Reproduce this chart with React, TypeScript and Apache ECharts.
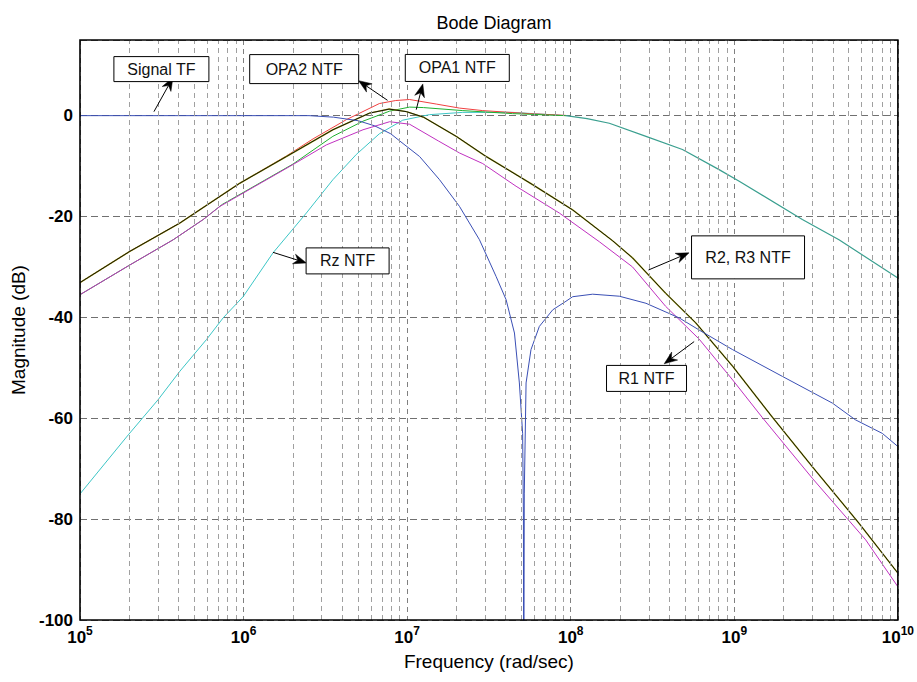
import React, { useEffect, useRef } from "react";
import * as echarts from "echarts";

// Each curve: [log10(frequency in rad/sec), magnitude in dB]
const signalTF: [number, number][] = [
  [5, 0], [6.4, 0], [6.55, -0.3], [6.7, -1.0], [6.8, -2.0], [6.9, -3.6], [6.954, -5.0],
  [7.076, -8.1], [7.198, -12.7], [7.32, -18.0], [7.442, -24.6], [7.544, -31.9], [7.605, -36.5],
  [7.656, -43.1], [7.686, -53], [7.706, -63], [7.711, -80], [7.7125, -130], [7.716, -75],
  [7.727, -53], [7.757, -46.4], [7.808, -41.8], [7.89, -38.5], [7.971, -36.8], [8.012, -35.9],
  [8.134, -35.4], [8.297, -35.8], [8.46, -37.2], [8.663, -40.1], [8.785, -42.5], [8.99, -46.4],
  [9.294, -51.7], [9.6, -57], [9.74, -60.3], [9.905, -63], [10, -65.6],
];

const r23NTF: [number, number][] = [
  [5, -33.1], [5.305, -26.9], [5.61, -21.3], [5.977, -13.4], [6.262, -8.1], [6.546, -2.8],
  [6.77, 0.5], [6.89, 1.3], [6.995, 0.8], [7.1, -0.3], [7.3, -4.1], [7.483, -8.1], [7.768, -13.7],
  [8.012, -18.7], [8.256, -24.8], [8.378, -28.2], [8.58, -35.2], [8.765, -41.1], [8.99, -49.7],
  [9.233, -59.8], [9.477, -69.6], [9.762, -80.8], [10, -90.7],
];

const r1NTF: [number, number][] = [
  [5, -35.5], [5.305, -29.6], [5.57, -24.6], [5.753, -20.6], [5.855, -18.0], [6.302, -9.7],
  [6.506, -5.8], [6.73, -2.8], [6.893, -1.2], [7.015, -1.7], [7.19, -5.0], [7.32, -7.4],
  [7.462, -9.5], [7.666, -14.0], [7.93, -19.3], [8.175, -25.0], [8.378, -30.0], [8.58, -37.8],
  [8.785, -44.3], [8.99, -52.4], [9.17, -59.8], [9.477, -71.9], [9.803, -84.1], [10, -93.4],
];

const opa2NTF: [number, number][] = [
  [5, -33.1], [5.305, -26.9], [5.61, -21.3], [5.977, -13.4], [6.262, -8.0], [6.425, -4.6],
  [6.628, -0.8], [6.83, 2.4], [6.93, 3.0], [7.015, 3.2], [7.178, 2.3], [7.32, 1.5], [7.462, 1.0],
  [7.747, 0.4], [7.97, 0.05],
];

const opa1NTF: [number, number][] = [
  [5, -35.5], [5.305, -29.6], [5.57, -24.6], [5.753, -20.6], [5.87, -17.6], [6.302, -9.6],
  [6.546, -4.1], [6.73, -1.1], [6.893, 0.9], [7.015, 1.7], [7.1, 1.6], [7.34, 1.0], [7.645, 0.4],
  [7.97, 0],
];

const rzNTF: [number, number][] = [
  [5, -75], [5.295, -63.3], [5.478, -56.3], [5.61, -50.7], [5.773, -44.4], [5.875, -40.1],
  [5.997, -35.9], [6.18, -27.2], [6.384, -19.3], [6.546, -12.7], [6.689, -7.7], [6.83, -3.6],
  [6.973, -0.9], [7.137, 0.2], [7.34, 0.65], [7.645, 0.65], [7.97, 0],
];

// shared high-frequency tail of the OPA1, OPA2 and Rz curves
const commonTail: [number, number][] = [
  [7.97, 0], [8.1, -0.6], [8.236, -1.5], [8.46, -4.1], [8.683, -6.7], [8.907, -10.7],
  [9.03, -13.0], [9.416, -20.6], [9.64, -24.6], [10, -32.2],
];

const decades = [5, 6, 7, 8, 9];
const minorMultipliers = [2, 3, 4, 5, 6, 7, 8, 9];

// annotations: box centre, tail and head of arrow, in [log10 f, dB]
const annotations = [
  { text: "Signal TF", box: [5.4976, 9.23], w: 95, h: 25, tail: [5.452, 0.79], head: [5.568, 7.54] },
  { text: "OPA2 NTF", box: [6.3706, 9.23], w: 109, h: 29, tail: [6.88, 3.04], head: [6.703, 6.94] },
  { text: "OPA1 NTF", box: [7.3065, 9.46], w: 104, h: 27, tail: [7.0556, 1.19], head: [7.0958, 6.29] },
  { text: "Rz NTF", box: [6.636, -28.8], w: 83, h: 26, tail: [6.18, -27.1], head: [6.384, -29.2] },
  { text: "R2, R3 NTF", box: [9.084, -28.1], w: 113, h: 43, tail: [8.4756, -30.6], head: [8.7234, -27.2] },
  { text: "R1 NTF", box: [8.4634, -52.1], w: 80, h: 26, tail: [8.7546, -44.8], head: [8.5714, -49.2] },
];

const FONT = '"Liberation Sans", Arial, Helvetica, sans-serif';

const toXY = (pts: [number, number][]) => pts.map(([e, db]) => [Math.pow(10, e), db]);

export default function App() {
  const ref = useRef<HTMLDivElement>(null);

  useEffect(() => {
    document.body.style.margin = "0";
    if (!ref.current) return;
    const chart = echarts.init(ref.current, undefined, { renderer: "svg" });

    const minorLines: { xAxis: number }[] = [];
    decades.forEach((d) => {
      minorMultipliers.forEach((m) => minorLines.push({ xAxis: m * Math.pow(10, d) }));
    });

    const line = (name: string, data: [number, number][], color: string, width = 1, extra: any = {}) => ({
      name,
      type: "line",
      data: toXY(data),
      showSymbol: false,
      symbol: "none",
      silent: true,
      clip: true,
      lineStyle: { color, width },
      emphasis: { disabled: true },
      ...extra,
    });

    chart.setOption({
      animation: false,
      backgroundColor: "#ffffff",
      title: {
        text: "Bode Diagram",
        left: 489,
        textAlign: "center",
        top: 9,
        textStyle: { fontFamily: FONT, fontSize: 18, fontWeight: "normal", color: "#000" },
      },
      grid: { left: 80, top: 40, right: 18, bottom: 62, containLabel: false },
      xAxis: {
        type: "log",
        logBase: 10,
        min: 1e5,
        max: 1e10,
        interval: 1,
        name: "Frequency (rad/sec)",
        nameLocation: "middle",
        nameGap: 32,
        nameTextStyle: { fontFamily: FONT, fontSize: 19, color: "#000" },
        axisLine: { show: false },
        axisTick: { show: false },
        axisLabel: {
          margin: 5,
          formatter: (v: number) => `{b|10}{s|${Math.round(Math.log10(v))}}`,
          rich: {
            b: { fontFamily: FONT, fontSize: 17, fontWeight: "bold", color: "#000", lineHeight: 24 },
            s: { fontFamily: FONT, fontSize: 12, fontWeight: "bold", color: "#000", verticalAlign: "top", lineHeight: 24 },
          },
        },
        splitLine: { show: true, lineStyle: { color: "#808080", width: 1, type: [5, 4] } },
      },
      yAxis: {
        type: "value",
        min: -100,
        max: 15,
        interval: 20,
        name: "Magnitude (dB)",
        nameLocation: "middle",
        nameGap: 48,
        nameTextStyle: { fontFamily: FONT, fontSize: 19, color: "#000" },
        axisLine: { show: false },
        axisTick: { show: false },
        axisLabel: {
          margin: 7,
          fontFamily: FONT,
          fontSize: 17,
          fontWeight: "bold",
          color: "#000",
          formatter: (v: number) => (v % 20 === 0 ? String(v) : ""),
        },
        splitLine: { show: true, lineStyle: { color: "#707070", width: 1, type: [7, 4] } },
      },
      series: [
        line("Rz NTF", rzNTF, "#3cc6c6", 1, {
          markLine: {
            silent: true,
            symbol: ["none", "none"],
            label: { show: false },
            lineStyle: { color: "#a0a0a0", width: 1, type: [5, 4] },
            emphasis: { disabled: true },
            data: minorLines,
          },
        }),
        line("OPA2 NTF", opa2NTF, "#f04040", 1),
        line("OPA1 NTF", opa1NTF, "#20b030", 1),
        line("Tail", commonTail, "#3a9f8f", 1.2),
        line("R2 NTF", r23NTF, "#a8a820", 1.5),
        line("R3 NTF", r23NTF, "#15150a", 1),
        line("R1 NTF", r1NTF, "#c030c0", 1),
        line("Signal TF", signalTF, "#3a4fb5", 1),
      ],
    });

    const toPx = (p: number[]) =>
      chart.convertToPixel({ gridIndex: 0 } as any, [Math.pow(10, p[0]), p[1]]) as number[];

    const graphics: any[] = [];
    const tl = toPx([5, 15]);
    const br = toPx([10, -100]);
    graphics.push({
      type: "rect",
      z: 100,
      silent: true,
      shape: { x: tl[0], y: tl[1], width: br[0] - tl[0], height: br[1] - tl[1] },
      style: { fill: "none", stroke: "#000", lineWidth: 1.6 },
    });

    annotations.forEach((a) => {
      const c = toPx(a.box);
      const t = toPx(a.tail);
      const h = toPx(a.head);
      const dx = h[0] - t[0];
      const dy = h[1] - t[1];
      const len = Math.sqrt(dx * dx + dy * dy) || 1;
      const ux = dx / len;
      const uy = dy / len;
      const nx = -uy;
      const ny = ux;
      const L = 13;
      const W = 5;
      const bx = h[0] - ux * L;
      const by = h[1] - uy * L;
      const backx = h[0] - ux * (L - 4);
      const backy = h[1] - uy * (L - 4);
      graphics.push({
        type: "line",
        z: 101,
        silent: true,
        shape: { x1: t[0], y1: t[1], x2: backx, y2: backy },
        style: { stroke: "#000", lineWidth: 1 },
      });
      graphics.push({
        type: "polygon",
        z: 101,
        silent: true,
        shape: {
          points: [
            [h[0], h[1]],
            [bx + nx * W, by + ny * W],
            [backx, backy],
            [bx - nx * W, by - ny * W],
          ],
        },
        style: { fill: "#000", stroke: "#000", lineWidth: 0.5 },
      });
      graphics.push({
        type: "rect",
        z: 102,
        silent: true,
        shape: { x: c[0] - a.w / 2, y: c[1] - a.h / 2, width: a.w, height: a.h },
        style: { fill: "#fff", stroke: "#000", lineWidth: 1 },
      });
      graphics.push({
        type: "text",
        z: 103,
        silent: true,
        x: c[0],
        y: c[1],
        style: {
          text: a.text,
          fill: "#111",
          font: `16px ${FONT}`,
          align: "center",
          verticalAlign: "middle",
          textAlign: "center",
          textVerticalAlign: "middle",
        },
      });
    });

    chart.setOption({ graphic: graphics });

    return () => {
      chart.dispose();
    };
  }, []);

  return <div ref={ref} style={{ width: 917, height: 682 }} />;
}
